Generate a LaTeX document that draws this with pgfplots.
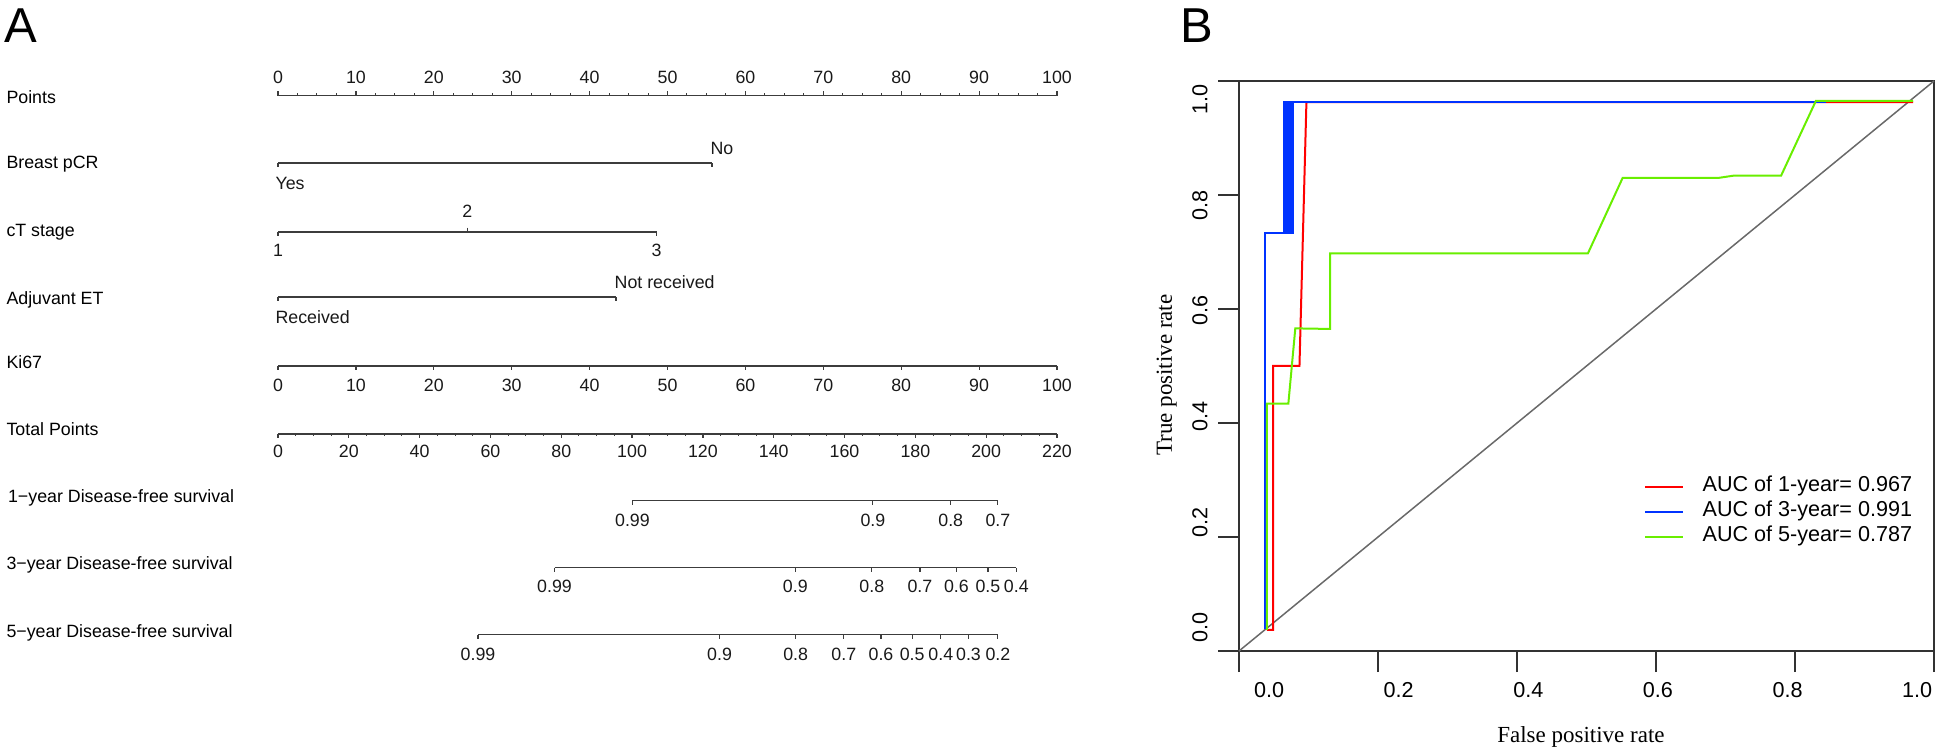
\documentclass[border=0pt]{standalone}
\usepackage{fontspec}
\setmainfont{Liberation Sans}
\newfontfamily\serifF{Liberation Serif}
\usepackage{pgfplots}
\pgfplotsset{compat=1.18}
\usepackage{pgfplotstable}
\definecolor{rocred}{RGB}{255,0,0}
\definecolor{rocblue}{RGB}{0,51,255}
\definecolor{rocgreen}{RGB}{105,238,0}
\definecolor{nomo}{RGB}{60,60,60}
\definecolor{diag}{RGB}{105,105,105}
\definecolor{boxc}{RGB}{50,50,50}

% Points / Ki67 scale (0-100)
\pgfplotstableread{
x lab
0 0
10 10
20 20
30 30
40 40
50 50
60 60
70 70
80 80
90 90
100 100
}\ptsmajor
% Total points (0-220)
\pgfplotstableread{
x lab
0 0
20 20
40 40
60 60
80 80
100 100
120 120
140 140
160 160
180 180
200 200
220 220
}\totmajor
% Survival scales, positions in total points
\pgfplotstableread{
x lab
100.1 0.99
168.0 0.9
190.0 0.8
203.3 0.7
}\survA
\pgfplotstableread{
x lab
78.1 0.99
146.1 0.9
167.7 0.8
181.3 0.7
191.6 0.6
200.5 0.5
208.5 0.4
}\survB
\pgfplotstableread{
x lab
56.5 0.99
124.7 0.9
146.2 0.8
159.8 0.7
170.3 0.6
179.1 0.5
187.2 0.4
195.0 0.3
203.3 0.2
}\survC

\pgfplotsset{
  nline/.style={color=nomo, line width=0.75bp, no markers, forget plot},
  tdown/.style={color=nomo, only marks, mark=|, mark size=1.1bp, mark options={yshift=-1.1bp, line width=0.6bp}, forget plot},
  tup/.style={color=nomo, only marks, mark=|, mark size=1.1bp, mark options={yshift=1.1bp, line width=0.6bp}, forget plot},
  tdownm/.style={color=nomo, only marks, mark=|, mark size=0.6bp, mark options={yshift=-0.6bp, line width=0.5bp}, forget plot},
  tupm/.style={color=nomo, only marks, mark=|, mark size=0.6bp, mark options={yshift=0.6bp, line width=0.5bp}, forget plot},
  lab/.style={nodes near coords, point meta=explicit symbolic,
     every node near coord/.style={anchor=base, yshift=#1, inner sep=0pt, text=black!90}},
  labw/.style 2 args={nodes near coords, point meta=explicit symbolic,
     every node near coord/.style={anchor=base west, yshift=#1, xshift=#2, inner sep=0pt, text=black!90}},
}

\begin{document}
\begin{tikzpicture}[font=\fontsize{8.9bp}{10.5bp}\selectfont]
\useasboundingbox (0,0) rectangle (971.5bp,375bp);

%================ Panel A: nomogram ================
\begin{axis}[at={(139bp,0bp)}, anchor=south west, scale only axis,
  width=389.5bp, height=375bp, xmin=0, xmax=100, ymin=-750, ymax=0,
  hide axis, clip=false]

\node[anchor=base west, inner sep=0pt, font=\fontsize{24.5bp}{28bp}\selectfont] at (axis cs:-35.2,-42) {A};

% row labels
\node[anchor=base west, inner sep=0pt] at (axis cs:-34.9,-103) {Points};
\node[anchor=base west, inner sep=0pt] at (axis cs:-34.9,-168) {Breast pCR};
\node[anchor=base west, inner sep=0pt] at (axis cs:-34.9,-236) {cT stage};
\node[anchor=base west, inner sep=0pt] at (axis cs:-34.9,-304) {Adjuvant ET};
\node[anchor=base west, inner sep=0pt] at (axis cs:-34.9,-368) {Ki67};
\node[anchor=base west, inner sep=0pt] at (axis cs:-34.9,-435) {Total Points};
\node[anchor=base west, inner sep=0pt] at (axis cs:-34.7,-502) {1−year Disease-free survival};
\node[anchor=base west, inner sep=0pt] at (axis cs:-34.9,-569) {3−year Disease-free survival};
\node[anchor=base west, inner sep=0pt] at (axis cs:-34.9,-637) {5−year Disease-free survival};

% Points
\addplot[nline] table[x=x, y expr=-95.5] {\ptsmajor};
\addplot[tup, lab=4.75bp] table[x=x, y expr=-95.5, meta=lab] {\ptsmajor};
\addplot[tupm] table[row sep=\\, x=x, y expr=-95.5] {x\\2.5\\5\\7.5\\12.5\\15\\17.5\\22.5\\25\\27.5\\32.5\\35\\37.5\\42.5\\45\\47.5\\52.5\\55\\57.5\\62.5\\65\\67.5\\72.5\\75\\77.5\\82.5\\85\\87.5\\92.5\\95\\97.5\\};

% Breast pCR
\addplot[nline] coordinates {(0,-163) (55.7,-163)};
\addplot[tdown, labw={-12bp}{-1.5bp}] coordinates {(0,-163) [Yes]};
\addplot[tdown, labw={5.15bp}{-1bp}] coordinates {(55.7,-163) [No]};

% cT stage
\addplot[nline] coordinates {(0,-232) (48.6,-232)};
\addplot[tdown, lab=-11bp] coordinates {(0,-232) [1] (48.6,-232) [3]};
\addplot[tup, lab=6bp] coordinates {(24.3,-232) [2]};

% Adjuvant ET
\addplot[nline] coordinates {(0,-297) (43.4,-297)};
\addplot[tdown, labw={-12bp}{-1.5bp}] coordinates {(0,-297) [Received]};
\addplot[tdown, labw={5.5bp}{-1bp}] coordinates {(43.4,-297) [Not received]};

% Ki67
\addplot[nline] table[x=x, y expr=-366] {\ptsmajor};
\addplot[tdown, lab=-11.5bp] table[x=x, y expr=-366, meta=lab] {\ptsmajor};

% Total points
\addplot[nline] table[x expr=\thisrow{x}/2.2, y expr=-434] {\totmajor};
\addplot[tdown, lab=-10.75bp] table[x expr=\thisrow{x}/2.2, y expr=-434, meta=lab] {\totmajor};
\addplot[tdownm] table[row sep=\\, x expr=\thisrow{x}/2.2, y expr=-434] {x\\5\\10\\15\\25\\30\\35\\45\\50\\55\\65\\70\\75\\85\\90\\95\\105\\110\\115\\125\\130\\135\\145\\150\\155\\165\\170\\175\\185\\190\\195\\205\\210\\215\\};

% Survival scales
\addplot[nline] table[x expr=\thisrow{x}/2.2, y expr=-500.5] {\survA};
\addplot[tdown, lab=-11.75bp] table[x expr=\thisrow{x}/2.2, y expr=-500.5, meta=lab] {\survA};
\addplot[nline] table[x expr=\thisrow{x}/2.2, y expr=-567.5] {\survB};
\addplot[tdown, lab=-11.25bp] table[x expr=\thisrow{x}/2.2, y expr=-567.5, meta=lab] {\survB};
\addplot[nline] table[x expr=\thisrow{x}/2.2, y expr=-634.5] {\survC};
\addplot[tdown, lab=-11.75bp] table[x expr=\thisrow{x}/2.2, y expr=-634.5, meta=lab] {\survC};
\end{axis}

%================ Panel B: ROC ================
\begin{axis}[at={(619.5bp,49.5bp)}, anchor=south west, scale only axis,
  width=347.5bp, height=285bp, xmin=0, xmax=1, ymin=0, ymax=1, clip=false,
  xtick={0,0.2,0.4,0.6,0.8,1}, ytick={0,0.2,0.4,0.6,0.8,1},
  xticklabels={}, yticklabels={},
  tick pos=left, tick align=outside, major tick length=10.5bp,
  axis line style={color=boxc, line width=0.75bp},
  every tick/.style={color=boxc, line width=0.75bp},
  legend style={draw=none, fill=none, at={(axis cs:0.584,0.244)}, anchor=west,
     inner sep=0pt, outer sep=0pt, row sep=0pt, column sep=9.5bp,
     font=\fontsize{10.8bp}{12bp}\selectfont,
     nodes={inner sep=0pt, text height=8.5bp, text depth=4bp}},
  legend cell align=left,
  legend image code/.code={\draw[#1, line width=0.6bp] (0bp,0bp) -- (18.75bp,0bp);},
]
\addplot[color=diag, line width=0.75bp, forget plot] coordinates {(0,0) (1,1)};

\addplot[color=rocred, line width=1bp] coordinates {
 (0.040,0.037) (0.049,0.037) (0.049,0.500) (0.087,0.500) (0.097,0.963) (0.970,0.963)};
\addlegendentry{AUC of 1-year= 0.967}

\addplot[fill=rocblue, draw=rocblue, line width=0.5bp, forget plot] coordinates {
 (0.065,0.733) (0.079,0.733) (0.079,0.963) (0.065,0.963) (0.065,0.733)};
\addplot[color=rocblue, line width=1bp] coordinates {
 (0.037,0.038) (0.037,0.733) (0.065,0.733) (0.065,0.963) (0.844,0.963)};
\addlegendentry{AUC of 3-year= 0.991}

\addplot[color=rocgreen, line width=1bp] coordinates {
 (0.040,0.037) (0.040,0.434) (0.071,0.434) (0.081,0.566) (0.131,0.565) (0.131,0.6975)
 (0.502,0.6975) (0.552,0.830) (0.690,0.830) (0.712,0.834) (0.780,0.834) (0.830,0.965) (0.970,0.965)};
\addlegendentry{AUC of 5-year= 0.787}

% tick labels
\begin{scope}[font=\fontsize{10.8bp}{12bp}\selectfont]
\node[anchor=base, inner sep=0pt] at (axis cs:0.0432,-0.0816) {0.0};
\node[anchor=base, inner sep=0pt] at (axis cs:0.2297,-0.0816) {0.2};
\node[anchor=base, inner sep=0pt] at (axis cs:0.4162,-0.0816) {0.4};
\node[anchor=base, inner sep=0pt] at (axis cs:0.6027,-0.0816) {0.6};
\node[anchor=base, inner sep=0pt] at (axis cs:0.7892,-0.0816) {0.8};
\node[anchor=base, inner sep=0pt] at (axis cs:0.9757,-0.0816) {1.0};
\node[rotate=90, inner sep=0pt] at (axis cs:-0.0561,0.0404) {0.0};
\node[rotate=90, inner sep=0pt] at (axis cs:-0.0561,0.2258) {0.2};
\node[rotate=90, inner sep=0pt] at (axis cs:-0.0561,0.4112) {0.4};
\node[rotate=90, inner sep=0pt] at (axis cs:-0.0561,0.5966) {0.6};
\node[rotate=90, inner sep=0pt] at (axis cs:-0.0561,0.7821) {0.8};
\node[rotate=90, inner sep=0pt] at (axis cs:-0.0561,0.9675) {1.0};
\end{scope}

\node[anchor=base, inner sep=0pt, font=\serifF\fontsize{11.5bp}{13bp}\selectfont] at (axis cs:0.492,-0.160) {False positive rate};
\node[rotate=90, inner sep=0pt, font=\serifF\fontsize{11.5bp}{13bp}\selectfont] at (axis cs:-0.104,0.484) {True positive rate};
\node[anchor=base west, inner sep=0pt, font=\fontsize{24.5bp}{28bp}\selectfont] at (axis cs:-0.085,1.068) {B};
\end{axis}
\end{tikzpicture}
\end{document}
